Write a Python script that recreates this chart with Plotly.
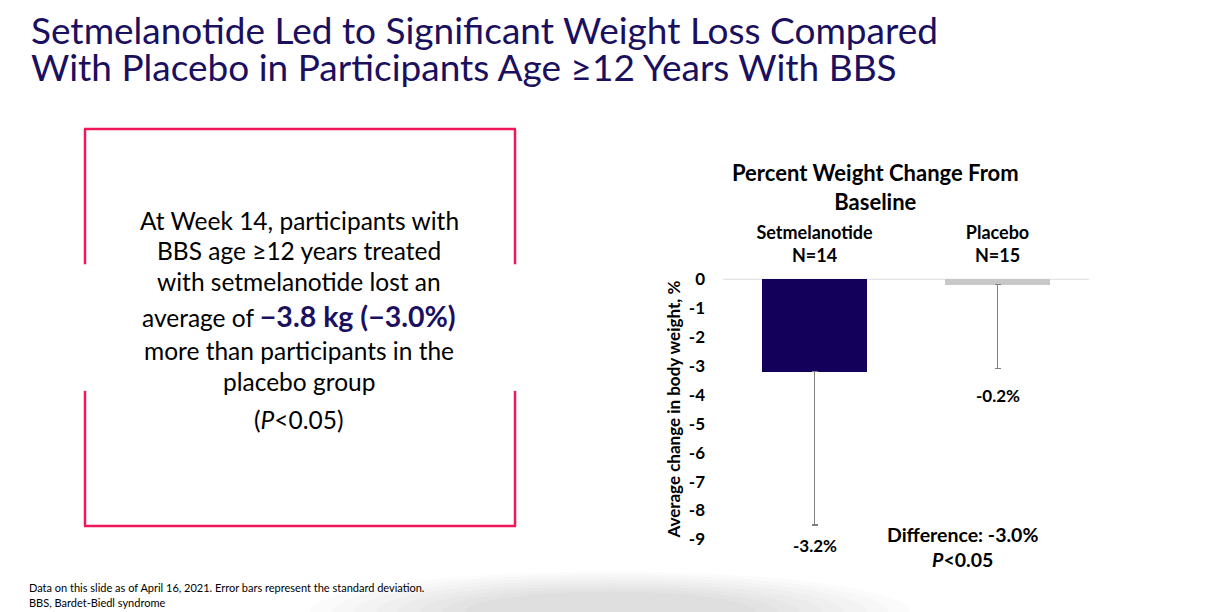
import plotly.graph_objects as go

# ---- data ----
categories = ["Setmelanotide<br>N=14", "Placebo<br>N=15"]
mean_change = [-3.2, -0.2]          # % change from baseline
sd_minus = [5.3, 2.9]               # standard deviation (drawn downward)
value_labels = ["-3.2%", "-0.2%"]
bar_colors = ["#12005a", "#c8c8c8"]
y_ticks = [0, -1, -2, -3, -4, -5, -6, -7, -8, -9]

W, H = 1209, 612
OFF = 8  # page offset of the figure in the browser

def px(x):
    return (x - OFF) / W

def py(y):
    return 1 - (y - OFF) / H

NAVY = "#1b0f5f"
FRAME = "#f0185a"
CAL = "Lato, 'Open Sans', sans-serif"

fig = go.Figure()
fig.add_trace(go.Bar(
    x=categories, y=mean_change,
    marker=dict(color=bar_colors, line=dict(width=0)),
    width=0.575,
    error_y=dict(type="data", symmetric=False, array=[0, 0], arrayminus=sd_minus,
                 color="#7f7f7f", thickness=1.2, width=3),
    showlegend=False, hoverinfo="skip",
))

fig.update_layout(
    width=W, height=H,
    margin=dict(l=0, r=0, t=0, b=0),
    paper_bgcolor="white", plot_bgcolor="rgba(0,0,0,0)",
    xaxis=dict(domain=[px(723), px(1089)], range=[-0.5, 1.5], side="top",
               showgrid=False, zeroline=False, showline=False, ticks="",
               tickfont=dict(family=CAL, size=18, color="black", weight="bold"),
               ticklabelstandoff=12),
    yaxis=dict(domain=[py(547), py(277)], range=[-9, 0], tickvals=y_ticks,
               ticktext=[str(v) for v in y_ticks],
               showgrid=False, zeroline=False, showline=False, ticks="",
               ticklabelstandoff=17,
               tickfont=dict(family=CAL, size=17, color="black", weight="bold"),
               title=dict(text="Average change in body weight, %", standoff=3,
                          font=dict(family=CAL, size=17, color="black", weight="bold"))),
    bargap=0,
)

shapes = []
# soft shadow at bottom
for i in range(8):
    rx = 300 - i * 22
    ry = 42 - i * 3
    cx, cy = 610, 622
    shapes.append(dict(type="circle", xref="paper", yref="paper",
                       x0=px(cx - rx), x1=px(cx + rx), y0=py(cy + ry), y1=py(cy - ry),
                       fillcolor="#000000", opacity=0.014, line=dict(width=0), layer="below"))
# baseline at zero
shapes.append(dict(type="line", xref="paper", yref="y", x0=px(723), x1=px(1089), y0=0, y1=0,
                   line=dict(color="#dcdcdc", width=2), layer="below"))
# framed text box (sides broken in the middle)
fl = dict(color=FRAME, width=2.5)
shapes += [
    dict(type="line", xref="paper", yref="paper", x0=px(84), x1=px(516), y0=py(122), y1=py(122), line=fl),
    dict(type="line", xref="paper", yref="paper", x0=px(84), x1=px(516), y0=py(533), y1=py(533), line=fl),
    dict(type="line", xref="paper", yref="paper", x0=px(85), x1=px(85), y0=py(122), y1=py(262), line=fl),
    dict(type="line", xref="paper", yref="paper", x0=px(85), x1=px(85), y0=py(393), y1=py(533), line=fl),
    dict(type="line", xref="paper", yref="paper", x0=px(515), x1=px(515), y0=py(122), y1=py(262), line=fl),
    dict(type="line", xref="paper", yref="paper", x0=px(515), x1=px(515), y0=py(393), y1=py(533), line=fl),
]
fig.update_layout(shapes=shapes)

ann = []

def A(text, x, y, size, color="black", bold=False, xanchor="center", family=CAL):
    ann.append(dict(text=text, x=px(x), y=py(y), xref="paper", yref="paper",
                    xanchor=xanchor, yanchor="middle", showarrow=False,
                    font=dict(family=family, size=size, color=color,
                              weight="bold" if bold else "normal")))

# slide title
A("Setmelanotide Led to Significant Weight Loss Compared", 29, 19, 37, NAVY, xanchor="left")
A("With Placebo in Participants Age ≥12 Years With BBS", 29, 57, 37, NAVY, xanchor="left")

# chart title
A("Percent Weight Change From<br>Baseline", 875, 182, 22, bold=True)

# value labels under the error bars
shifts = [-20, -27]
for i in range(2):
    ann.append(dict(text="<b>" + value_labels[i] + "</b>", x=categories[i],
                    y=mean_change[i] - sd_minus[i], xref="x", yref="y",
                    yshift=shifts[i], showarrow=False,
                    font=dict(family=CAL, size=17, color="black")))

A("Difference: -3.0%<br><i>P</i><0.05", 962, 555, 19.5, bold=True)

# text box content
box_lines = [
    ("At Week 14, participants with", 217),
    ("BBS age ≥12 years treated", 248),
    ("with setmelanotide lost an", 280),
    ("average of <span style='font-size:28.5px;color:#1b0f5f'><b>−3.8 kg (−3.0%)</b></span>", 316),
    ("more than participants in the", 351),
    ("placebo group", 383),
    ("(<i>P</i><0.05)", 423),
]
for t, y in box_lines:
    A(t, 299, y, 24.5)

# footnotes
A("Data on this slide as of April 16, 2021. Error bars represent the standard deviation.", 27, 597, 11,
  xanchor="left")
A("BBS, Bardet-Biedl syndrome", 27, 612, 11, xanchor="left")

fig.update_layout(annotations=ann)
fig.write_html("out.html")
